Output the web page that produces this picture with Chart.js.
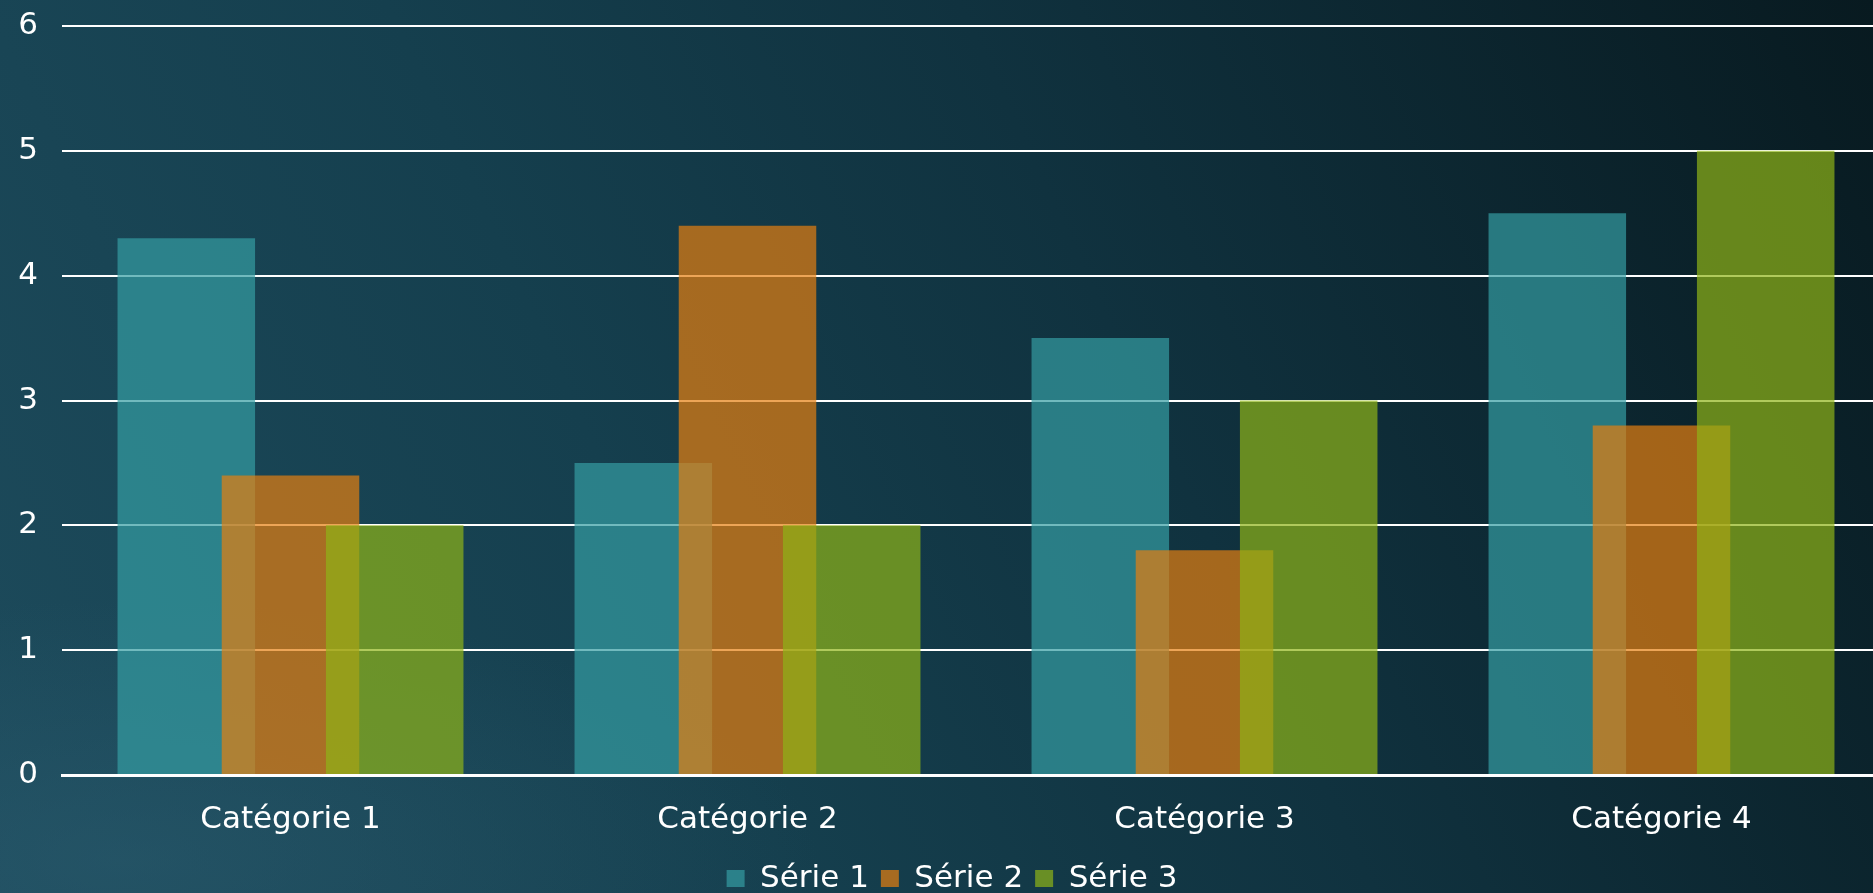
<!DOCTYPE html>
<html>
<head>
<meta charset="utf-8">
<script src="https://cdn.jsdelivr.net/npm/chart.js@4.4.1/dist/chart.umd.min.js"></script>
<style>
    html, body {
        margin: 0;
        padding: 0;
        overflow: hidden;
        width: 1873px;
        height: 893px;
    }
    body {
        background:
            radial-gradient(ellipse 700px 260px at 120px 860px, rgba(45, 95, 115, 0.45), rgba(45, 95, 115, 0) 100%),
            linear-gradient(65deg, #1d4b5c 0%, #153f4e 35%, #10323f 60%, #081a20 100%);
    }
    #wrap {
        position: relative;
        width: 1890px;
        height: 904px;
    }
</style>
</head>
<body>
<div id="wrap"><canvas id="barchart"></canvas></div>
<script>
const categories = ['Catégorie 1', 'Catégorie 2', 'Catégorie 3', 'Catégorie 4'];
const serie1 = [4.3, 2.5, 3.5, 4.5];
const serie2 = [2.4, 4.4, 1.8, 2.8];
const serie3 = [2, 2, 3, 5];
const yTicks = [0, 1, 2, 3, 4, 5, 6];

const FONT = '"DejaVu Sans", sans-serif';

// draw datasets left to right so Série 3 sits on top of Série 2, etc.
const drawInOrder = {
    id: 'drawInOrder',
    beforeDatasetsDraw(chart) {
        chart.data.datasets.forEach((ds, i) => {
            const meta = chart.getDatasetMeta(i);
            if (!meta.hidden) meta.controller.draw();
        });
        return false;
    }
};

const ctx = document.getElementById('barchart').getContext('2d');
new Chart(ctx, {
    type: 'bar',
    data: {
        labels: categories,
        datasets: [
            {
                label: 'Série 1',
                data: serie1,
                backgroundColor: 'rgba(52, 157, 163, 0.7)'
            },
            {
                label: 'Série 2',
                data: serie2,
                backgroundColor: 'rgba(229, 127, 16, 0.7)'
            },
            {
                label: 'Série 3',
                data: serie3,
                backgroundColor: 'rgba(143, 180, 23, 0.7)'
            }
        ]
    },
    options: {
        responsive: true,
        maintainAspectRatio: false,
        animation: false,
        datasets: {
            bar: {
                categoryPercentage: 0.684,
                barPercentage: 1.32
            }
        },
        layout: {
            padding: { top: 26, left: 14, right: 0, bottom: 0 }
        },
        scales: {
            x: {
                afterFit(scale) {
                    scale.height = 76;
                },
                grid: { display: false, drawTicks: false },
                border: { display: true, color: '#ffffff', width: 3 },
                ticks: {
                    color: '#ffffff',
                    font: { family: FONT, size: 31 },
                    padding: 26
                }
            },
            y: {
                min: 0,
                max: 6,
                afterBuildTicks(scale) {
                    scale.ticks = yTicks.map(v => ({ value: v }));
                },
                afterFit(scale) {
                    scale.width = 48;
                    scale.paddingTop = 0;
                    scale.paddingBottom = 0;
                },
                grid: { color: '#ffffff', lineWidth: 2, drawTicks: false },
                border: { display: false },
                ticks: {
                    color: '#ffffff',
                    font: { family: FONT, size: 31 },
                    padding: 24
                }
            }
        },
        plugins: {
            legend: {
                position: 'bottom',
                labels: {
                    color: '#ffffff',
                    font: { family: FONT, size: 31 },
                    boxWidth: 18,
                    boxHeight: 17,
                    padding: 12
                }
            },
            tooltip: { enabled: false }
        }
    },
    plugins: [drawInOrder]
});
</script>
</body>
</html>
